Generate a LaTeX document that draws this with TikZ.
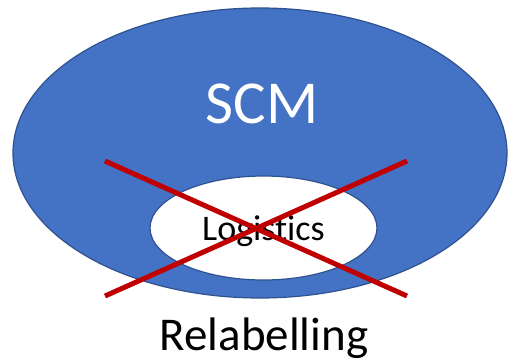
\documentclass[tikz,border=0pt]{standalone}
\usepackage{fontspec}
\setmainfont{Carlito}[Ligatures={NoCommon,NoRare,NoDiscretionary}]
\usetikzlibrary{shapes.geometric}
\definecolor{fillblue}{HTML}{4472C4}
\definecolor{edgeblue}{HTML}{2F528F}
\definecolor{xred}{HTML}{C00000}
\begin{document}
\begin{tikzpicture}[x=1pt,y=-1pt,
  outer/.style={ellipse, draw=edgeblue, fill=fillblue, line width=1.2pt, minimum width=494pt, minimum height=290pt, inner sep=0pt},
  inner/.style={ellipse, draw=edgeblue, fill=white, line width=1.2pt, minimum width=227pt, minimum height=104pt, inner sep=0pt},
  cross/.style={draw=xred, line width=5pt},
  lbl/.style={anchor=base, inner sep=0pt}]
\useasboundingbox (0,0) rectangle (508,361);
\node[outer] (scm) at (260,153) {};
\node[inner] (log) at (263.5,228) {};
\node[lbl, text=white, font=\fontsize{61}{61}\selectfont] (scmt) at (262,123) {SCM};
\node[lbl, font=\fontsize{36}{36}\selectfont] (logt) at (263.5,240) {Logistics};
\node[lbl, font=\fontsize{47}{47}\selectfont] (rel) at (264,350) {Relabelling};
\coordinate (a1) at (105,161);
\coordinate (a2) at (407,296);
\coordinate (b1) at (407,161);
\coordinate (b2) at (105,296);
\draw[cross] (a1) -- (a2);
\draw[cross] (b1) -- (b2);
\end{tikzpicture}
\end{document}
